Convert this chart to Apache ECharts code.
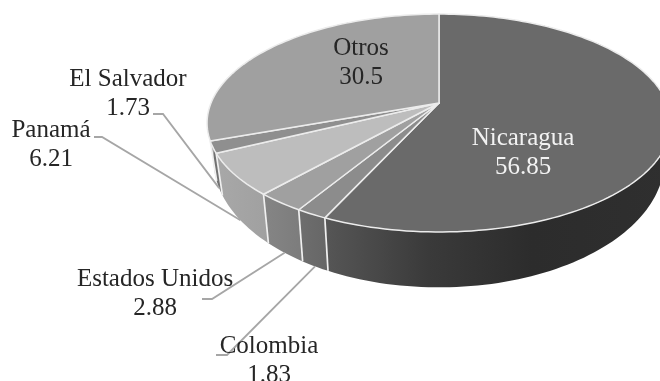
<!DOCTYPE html>
<html><head><meta charset="utf-8">
<style>html,body{margin:0;padding:0;background:#fff;overflow:hidden}#c{width:660px;height:381px;filter:blur(0.5px)}</style>
<script src="https://cdn.jsdelivr.net/npm/echarts@6/dist/echarts.min.js"></script>
</head><body><div id="c"></div>
<script>
// Data (in drawing order, clockwise from 12 o'clock)
const countries = ['Nicaragua','Colombia','Estados Unidos','Panamá','El Salvador','Otros'];
const shares = [56.85,1.83,2.88,6.21,1.73,30.5];

// Styles
const topColors = ['#6a6a6a','#8c8c8c','#a0a0a0','#bdbdbd','#8f8f8f','#a0a0a0'];
const sideColors = [
  [['0','#565656'],['0.3','#3a3a3a'],['0.6','#2c2c2c'],['1','#2f2f2f']],
  [['0','#6e6e6e'],['1','#666666']],
  [['0','#858585'],['1','#7c7c7c']],
  [['0','#a8a8a8'],['1','#a0a0a0']],
  [['0','#6f6f6f'],['1','#747474']],
  [['0','#9c9c9c'],['1','#9c9c9c']]
];
const labelColors = ['#f2f2f2','#262626','#262626','#262626','#262626','#262626'];
// Label layout: centre of the two-line label and, where present, start and elbow of the leader
const labelCenter = [[523,152.5],[269,361],[155,293.5],[51,145],[128,93.5],[361,62.5]];
const leaderStart = [null,[216,355],[202,299],[94,137],[153,114],null];
const leaderElbow = [null,[227,355],[212,299],[102,137],[163,114],null];

// Projection of the tilted disc
const C = {x:439,y:103,b:228,a:105.3,k:0.1835,shrink:0.972,d0:33.5,dk:0.17};
function rim(deg){
  const t = deg*Math.PI/180, u = Math.sin(t), v = -Math.cos(t), w = 1-C.k*v;
  return [C.x+C.b*u/w, C.y+C.a*v/w];
}
function floor(deg){
  const p = rim(deg);
  return [C.x+(p[0]-C.x)*C.shrink, p[1]+C.d0+C.dk*(p[1]-C.y)];
}
const total = shares.reduce((s,v)=>s+v,0);
function span(i){
  let acc = 0;
  for(let j=0;j<i;j++) acc += shares[j];
  return [acc/total*360,(acc+shares[i])/total*360];
}
function arc(fn,a,b){
  const n = Math.max(2,Math.ceil(Math.abs(b-a)/1.5)), pts = [];
  for(let i=0;i<=n;i++) pts.push(fn(a+(b-a)*i/n));
  return pts;
}
const rows = countries.map((n,i)=>[n,shares[i]]);

function renderSide(params){
  const i = params.dataIndex, s = span(i);
  const top = arc(rim,s[0],s[1]), bot = arc(floor,s[0],s[1]).reverse();
  const kids = [{type:'polygon',shape:{points:top.concat(bot)},silent:true,
    style:{fill:{type:'linear',x:0,y:0,x2:1,y2:0,colorStops:sideColors[i].map(c=>({offset:+c[0],color:c[1]}))},stroke:null}}];
  if(s[0]>90 && s[0]<270){
    kids.push({type:'line',silent:true,shape:{x1:rim(s[0])[0],y1:rim(s[0])[1],x2:floor(s[0])[0],y2:floor(s[0])[1]},
      style:{stroke:'#f0f0f0',lineWidth:1.7}});
  }
  return {type:'group',children:kids};
}
function renderTop(params){
  const i = params.dataIndex, s = span(i);
  const pts = [[C.x,C.y]].concat(arc(rim,s[0],s[1]));
  return {type:'polygon',shape:{points:pts},silent:true,
    style:{fill:topColors[i],stroke:'#ececec',lineWidth:1.5,lineJoin:'round'}};
}
function renderLabel(params,api){
  const i = params.dataIndex, s = span(i), kids = [];
  if(leaderStart[i]){
    kids.push({type:'polyline',silent:true,shape:{points:[leaderStart[i],leaderElbow[i],floor((s[0]+s[1])/2)]},
      style:{stroke:'#a6a6a6',lineWidth:1.8,fill:null}});
  }
  kids.push({type:'text',silent:true,x:labelCenter[i][0],y:labelCenter[i][1],
    style:{text:api.value(0)+'\n'+api.value(1),fill:labelColors[i],font:'25px "Liberation Serif"',
      lineHeight:29,align:'center',verticalAlign:'middle',textAlign:'center',textVerticalAlign:'middle'}});
  return {type:'group',children:kids};
}
const chart = echarts.init(document.getElementById('c'),null,{renderer:'canvas',width:660,height:381});
const common = {type:'custom',coordinateSystem:'none',data:rows,animation:false,silent:true,clip:false};
chart.setOption({
  animation:false,backgroundColor:'#ffffff',
  series:[
    Object.assign({name:'Lados',renderItem:renderSide,z:1},common),
    Object.assign({name:'Participación',renderItem:renderTop,z:2},common),
    Object.assign({name:'Etiquetas',renderItem:renderLabel,z:3},common)
  ]
});
</script></body></html>
